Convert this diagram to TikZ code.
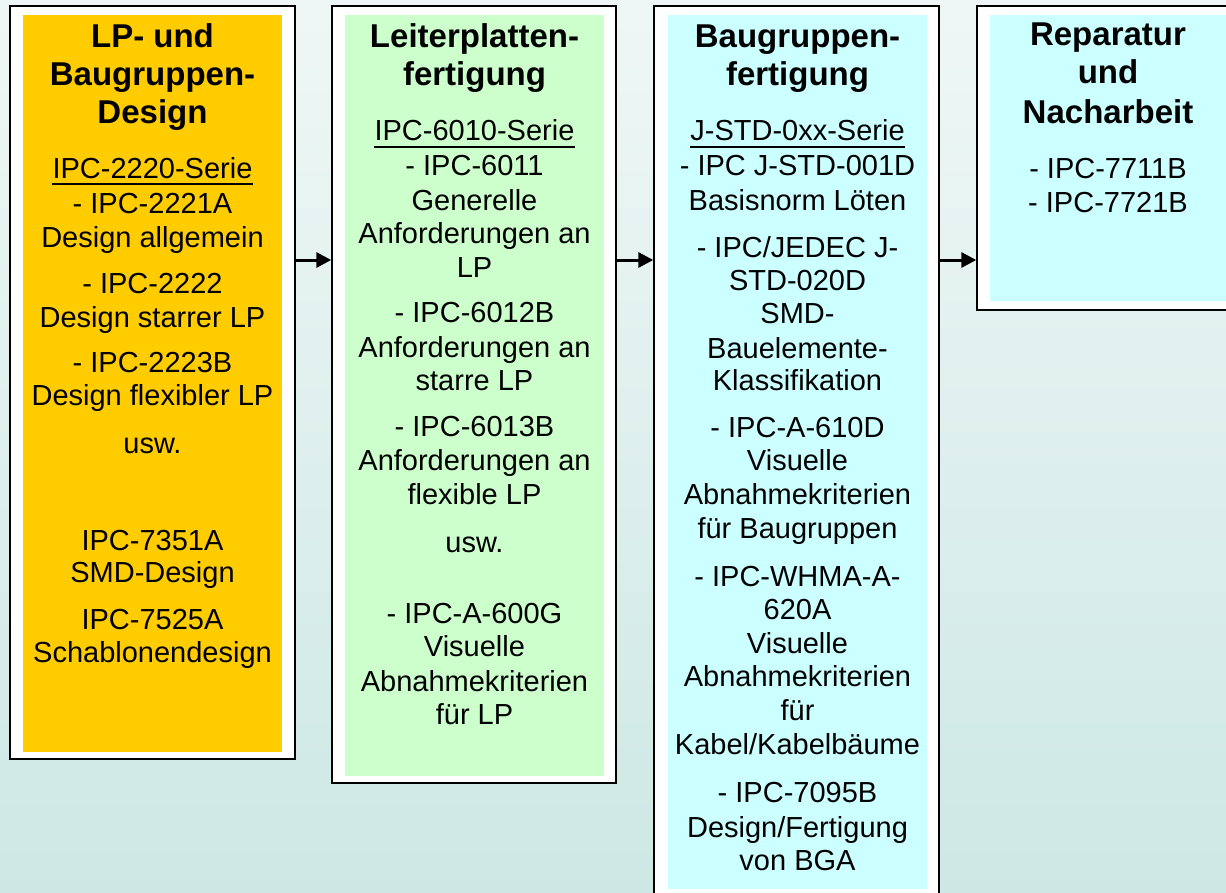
\documentclass[tikz,border=0pt]{standalone}
\usepackage{fontspec}
\setmainfont{Liberation Sans}
\usetikzlibrary{arrows.meta,shadows}
\definecolor{bgtop}{RGB}{239,247,246}
\definecolor{bgbot}{RGB}{205,232,228}
\definecolor{cyel}{RGB}{255,204,0}
\definecolor{cgrn}{RGB}{204,255,204}
\definecolor{ccyn}{RGB}{204,255,255}
\begin{document}
\begin{tikzpicture}[x=1pt,y=-1pt,
  outerbox/.style={draw=black,line width=1.4pt,fill=white,rectangle,inner sep=0pt,
    drop shadow={shadow xshift=1.2pt,shadow yshift=-1.2pt,fill=gray,opacity=0.6}},
  innerbox/.style={draw=none,rectangle,inner sep=0pt},
  ttl/.style={font=\bfseries\fontsize{33}{38}\selectfont,inner sep=0pt,anchor=base},
  txt/.style={font=\fontsize{29}{34}\selectfont,inner sep=0pt,anchor=base},
  uline/.style={line width=2pt},
  arr/.style={line width=3pt,-{Triangle[length=15pt,width=15pt]}}]
\useasboundingbox (0,0) rectangle (1226,892);
\shade[top color=bgtop,bottom color=bgbot] (0,0) rectangle (1226,892);

% boxes
\node[outerbox,minimum width=285pt,minimum height=753pt] (o1) at (152.5,382.5) {};
\node[innerbox,fill=cyel,minimum width=259pt,minimum height=737pt] (i1) at (152.5,383.5) {};
\node[outerbox,minimum width=284pt,minimum height=777pt] (o2) at (474,394.5) {};
\node[innerbox,fill=cgrn,minimum width=259pt,minimum height=761pt] (i2) at (474.5,395.5) {};
\node[outerbox,minimum width=285pt,minimum height=890pt] (o3) at (796.5,451) {};
\node[innerbox,fill=ccyn,minimum width=259pt,minimum height=874pt] (i3) at (797.5,452) {};
\node[outerbox,minimum width=285pt,minimum height=304pt] (o4) at (1119.5,158) {};
\node[innerbox,fill=ccyn,minimum width=259pt,minimum height=286pt] (i4) at (1119.5,158) {};

% arrows
\draw[arr] (o1.east |- 0,260) -- (o2.west |- 0,260);
\draw[arr] (o2.east |- 0,260) -- (o3.west |- 0,260);
\draw[arr] (o3.east |- 0,260) -- (o4.west |- 0,260);

% box 1
\foreach \y/\t [count=\i] in {47/{LP- und},85/{Baugruppen-},123/{Design}}
  \node[ttl] (a\i) at (152.5,\y) {\t};
\node[txt] (s1) at (152.5,178) {IPC-2220-Serie};
\draw[uline] ([yshift=-6pt]s1.base west) -- ([yshift=-6pt]s1.base east);
\foreach \y/\t [count=\i] in {213/{- IPC-2221A},247/{Design allgemein},293/{- IPC-2222},
  327/{Design starrer LP},372/{- IPC-2223B},405/{Design flexibler LP},453/{usw.},
  550/{IPC-7351A},582/{SMD-Design},629/{IPC-7525A},662/{Schablonendesign}}
  \node[txt] (p\i) at (152.5,\y) {\t};

% box 2
\foreach \y/\t [count=\i] in {47/{Leiterplatten-},85/{fertigung}}
  \node[ttl] (b\i) at (474.5,\y) {\t};
\node[txt] (s2) at (474.5,140) {IPC-6010-Serie};
\draw[uline] ([yshift=-7pt]s2.base west) -- ([yshift=-7pt]s2.base east);
\foreach \y/\t [count=\i] in {175/{- IPC-6011},210/{Generelle},243/{Anforderungen an},
  277/{LP},322/{- IPC-6012B},357/{Anforderungen an},390/{starre LP},
  436/{- IPC-6013B},470/{Anforderungen an},504/{flexible LP},552/{usw.},
  623/{- IPC-A-600G},656/{Visuelle},691/{Abnahmekriterien},724/{für LP}}
  \node[txt] (q\i) at (474.5,\y) {\t};

% box 3
\foreach \y/\t [count=\i] in {47/{Baugruppen-},85/{fertigung}}
  \node[ttl] (c\i) at (797.5,\y) {\t};
\node[txt] (s3) at (797.5,140) {J-STD-0xx-Serie};
\draw[uline] ([yshift=-7pt]s3.base west) -- ([yshift=-7pt]s3.base east);
\foreach \y/\t [count=\i] in {175/{- IPC J-STD-001D},210/{Basisnorm Löten},
  257/{- IPC/JEDEC J-},290/{STD-020D},323/{SMD-},358/{Bauelemente-},390/{Klassifikation},
  437/{- IPC-A-610D},470/{Visuelle},504/{Abnahmekriterien},538/{für Baugruppen},
  586/{- IPC-WHMA-A-},619/{620A},653/{Visuelle},686/{Abnahmekriterien},720/{für},
  754/{Kabel/Kabelbäume},802/{- IPC-7095B},837/{Design/Fertigung},870/{von BGA}}
  \node[txt] (r\i) at (797.5,\y) {\t};

% box 4
\foreach \y/\t [count=\i] in {45/{Reparatur},83/{und},123/{Nacharbeit}}
  \node[ttl] (d\i) at (1108,\y) {\t};
\foreach \y/\t [count=\i] in {178/{- IPC-7711B},212/{- IPC-7721B}}
  \node[txt] (u\i) at (1108,\y) {\t};
\end{tikzpicture}
\end{document}
